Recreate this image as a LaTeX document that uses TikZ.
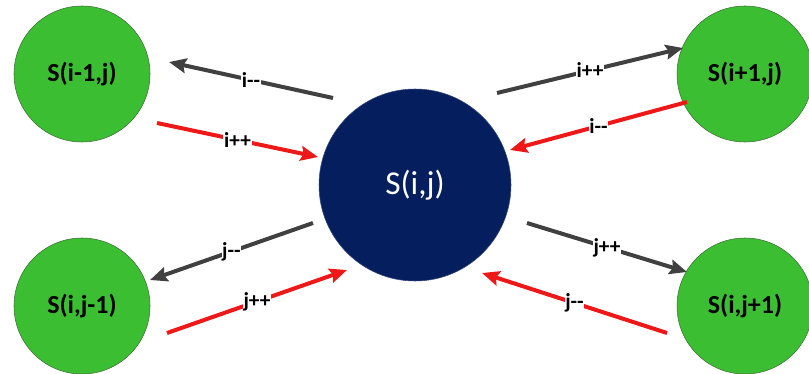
\documentclass[tikz,border=0pt]{standalone}
\usepackage{fontspec}
\setmainfont{Carlito}
\usetikzlibrary{arrows.meta}
\definecolor{leafgreen}{RGB}{60,190,50}
\definecolor{leafline}{RGB}{60,110,50}
\definecolor{corenavy}{RGB}{4,30,94}
\definecolor{fwdgray}{RGB}{64,64,64}
\definecolor{backred}{RGB}{238,24,24}
\begin{document}
\begin{tikzpicture}[x=0.75pt,y=-0.75pt,
  core/.style={circle,draw=corenavy!80!white,fill=corenavy,minimum size=144pt,inner sep=0pt,
    text=white,font=\fontsize{25}{25}\selectfont},
  leaf/.style={circle,draw=leafline,fill=leafgreen,minimum size=102pt,inner sep=0pt,
    font=\fontsize{19.5}{19.5}\selectfont\bfseries},
  fwd/.style={-{Stealth[length=13pt,width=11pt,inset=2pt]},line width=3pt,draw=fwdgray},
  back/.style={-{Stealth[length=13pt,width=11pt,inset=2pt]},line width=3pt,draw=backred},
  lbl/.style={fill=white,inner sep=0.5pt,font=\fontsize{16}{16}\selectfont\bfseries}
]
  \useasboundingbox (0,0) rectangle (809,374);
  \node[core] (c) at (415,185) {S(i,j)};
  \node[leaf] (l) at (82,74) {S(i-1,j)};
  \node[leaf] (r) at (745,74) {S(i+1,j)};
  \node[leaf] (d) at (82,306) {S(i,j-1)};
  \node[leaf] (u) at (745,306) {S(i,j+1)};
  % free arrow ends
  \coordinate (la1) at (333,98);  \coordinate (la2) at (169,62);
  \coordinate (lb1) at (157,123); \coordinate (lb2) at (318,157);
  \coordinate (ra1) at (497,93);  \coordinate (ra2) at (683,48);
  \coordinate (rb1) at (687,102); \coordinate (rb2) at (510,150);
  \coordinate (da1) at (313,223); \coordinate (da2) at (150,280);
  \coordinate (db1) at (167,333); \coordinate (db2) at (347,270);
  \coordinate (ua1) at (527,223); \coordinate (ua2) at (687,272);
  \coordinate (ub1) at (667,333); \coordinate (ub2) at (482,273);
  \draw[fwd] (la1) -- node[lbl]{i-{}-} (la2);
  \draw[back] (lb1) -- node[lbl]{i++} (lb2);
  \draw[fwd] (ra1) -- node[lbl]{i++} (ra2);
  \draw[back] (rb1) -- node[lbl]{i-{}-} (rb2);
  \draw[fwd] (da1) -- node[lbl]{j-{}-} (da2);
  \draw[back] (db1) -- node[lbl]{j++} (db2);
  \draw[fwd] (ua1) -- node[lbl]{j++} (ua2);
  \draw[back] (ub1) -- node[lbl]{j-{}-} (ub2);
\end{tikzpicture}
\end{document}
